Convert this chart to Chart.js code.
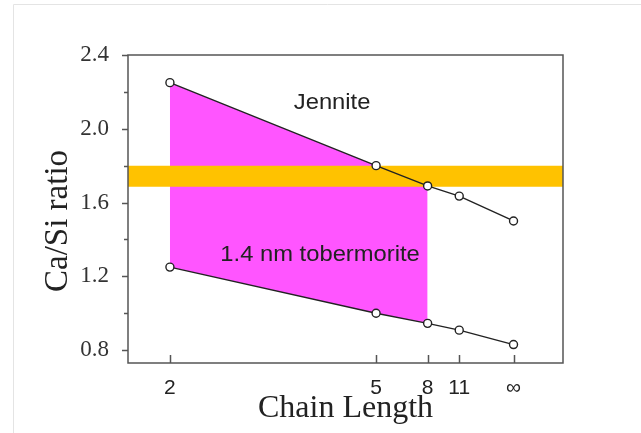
<!DOCTYPE html>
<html>
<head>
<meta charset="utf-8">
<script src="https://cdn.jsdelivr.net/npm/chart.js@4.4.1/dist/chart.umd.min.js"></script>
<style>
  html, body { margin: 0; padding: 0; background: #fff; }
  #wrap { width: 641px; height: 433px; position: relative; }
</style>
</head>
<body>
<div id="wrap"><canvas id="chart"></canvas></div>
<script>
// Chain length labels and their spot on the x axis (roughly 1/n)
const chainLabels = ['2', '5', '8', '11', '\u221E'];
const chainPos = [0.5, 0.2, 0.125, 0.079, 0];

// Ca/Si ratio for each chain length
const jennite = [2.25, 1.80, 1.69, 1.635, 1.50];
const tobermorite = [1.25, 1.00, 0.945, 0.908, 0.83];

// magenta region covers the first three chain lengths
const shadeCount = 3;

// orange band
const bandRange = [1.685, 1.80];

const yTicks = [0.8, 1.2, 1.6, 2.0, 2.4];
const yMinorTicks = [1.0, 1.4, 1.8, 2.2];

const annotations = [
    { text: 'Jennite', x: 0.264, y: 2.142 },
    { text: '1.4 nm tobermorite', x: 0.2815, y: 1.314 },
];

const Y_TITLE = 'Ca/Si ratio';

const X_MIN = -0.072, X_MAX = 0.561;
const Y_MIN = 0.73, Y_MAX = 2.4;

const LINE_COLOR = '#222';
const FRAME_COLOR = '#555';
const MAGENTA = 'rgb(255, 85, 255)';
const ORANGE = 'rgb(255, 194, 0)';
const SERIF = '"Liberation Serif", "Times New Roman", serif';
const SANS = '"Liberation Sans", Arial, sans-serif';

const toPoints = (ys) => ys.map((y, i) => ({ x: chainPos[i], y }));

const lineStyle = {
    borderColor: LINE_COLOR,
    borderWidth: 1.4,
    pointRadius: 4,
    pointBorderWidth: 1.4,
    pointBackgroundColor: '#fff',
    pointBorderColor: LINE_COLOR,
    fill: false,
    order: 0,
};

const hiddenEdge = { borderWidth: 0, pointRadius: 0, fill: false };

// frame, tick marks, y title and text labels
const extras = {
    id: 'extras',
    beforeDraw(chart) {
        const ctx = chart.ctx;
        ctx.save();
        ctx.strokeStyle = '#e4e4e4';
        ctx.lineWidth = 1;
        ctx.beginPath();
        ctx.moveTo(13.5, 433);
        ctx.lineTo(13.5, 4.5);
        ctx.lineTo(641, 4.5);
        ctx.stroke();
        ctx.restore();
    },
    afterDatasetsDraw(chart) {
        const ctx = chart.ctx;
        const xs = chart.scales.x, ys = chart.scales.y;
        ctx.save();
        ctx.fillStyle = '#222';
        ctx.font = '22px ' + SANS;
        ctx.textAlign = 'center';
        ctx.textBaseline = 'middle';
        annotations.forEach(a => {
            const px = xs.getPixelForValue(a.x);
            const py = ys.getPixelForValue(a.y);
            ctx.save();
            ctx.translate(px, py);
            ctx.scale(1.08, 1);
            ctx.fillText(a.text, 0, 0);
            ctx.restore();
        });
        ctx.restore();
    },
    afterDraw(chart) {
        const ctx = chart.ctx;
        const area = chart.chartArea;
        const xs = chart.scales.x, ys = chart.scales.y;
        ctx.save();
        ctx.strokeStyle = FRAME_COLOR;
        ctx.lineWidth = 1.5;
        ctx.strokeRect(area.left, area.top, area.right - area.left, area.bottom - area.top);
        ctx.beginPath();
        chainPos.forEach(v => {
            const px = Math.round(xs.getPixelForValue(v)) + 0.5;
            ctx.moveTo(px, area.bottom);
            ctx.lineTo(px, area.bottom - 8);
        });
        yTicks.forEach(v => {
            const py = Math.round(ys.getPixelForValue(v)) + 0.5;
            ctx.moveTo(area.left, py);
            ctx.lineTo(area.left - 6, py);
        });
        yMinorTicks.forEach(v => {
            const py = Math.round(ys.getPixelForValue(v)) + 0.5;
            ctx.moveTo(area.left, py);
            ctx.lineTo(area.left - 4, py);
        });
        ctx.stroke();

        // y axis title, sits a little below the middle of the plot
        ctx.fillStyle = '#222';
        ctx.font = '33px ' + SERIF;
        ctx.textAlign = 'center';
        ctx.textBaseline = 'middle';
        ctx.translate(58, ys.getPixelForValue(1.50));
        ctx.rotate(-Math.PI / 2);
        ctx.fillText(Y_TITLE, 0, 0);
        ctx.restore();
    }
};

new Chart(document.getElementById('chart'), {
    type: 'line',
    data: {
        datasets: [
            { label: 'Jennite', data: toPoints(jennite), ...lineStyle },
            { label: '1.4 nm tobermorite', data: toPoints(tobermorite), ...lineStyle },
            {
                label: 'band top',
                data: [{ x: X_MIN, y: bandRange[1] }, { x: X_MAX, y: bandRange[1] }],
                ...hiddenEdge,
                fill: '+1',
                backgroundColor: ORANGE,
                order: 1,
            },
            {
                label: 'band bottom',
                data: [{ x: X_MIN, y: bandRange[0] }, { x: X_MAX, y: bandRange[0] }],
                ...hiddenEdge,
                order: 1,
            },
            {
                label: 'shade top',
                data: toPoints(jennite).slice(0, shadeCount),
                ...hiddenEdge,
                fill: '+1',
                backgroundColor: MAGENTA,
                order: 2,
            },
            {
                label: 'shade bottom',
                data: toPoints(tobermorite).slice(0, shadeCount),
                ...hiddenEdge,
                order: 2,
            },
        ]
    },
    options: {
        responsive: true,
        maintainAspectRatio: false,
        animation: false,
        layout: {
            padding: { top: 55, right: 78, left: 0, bottom: 0 }
        },
        plugins: {
            legend: { display: false },
            tooltip: { enabled: false },
        },
        elements: { line: { tension: 0 } },
        scales: {
            x: {
                type: 'linear',
                reverse: true,
                min: X_MIN,
                max: X_MAX,
                grid: { display: false },
                border: { display: false },
                afterBuildTicks: (scale) => {
                    scale.ticks = chainPos.map(v => ({ value: v }));
                },
                afterFit: (scale) => { scale.height = 70; },
                ticks: {
                    autoSkip: false,
                    maxRotation: 0,
                    padding: 5,
                    color: '#222',
                    font: { family: SANS, size: 21 },
                    callback: (value) => {
                        const i = chainPos.indexOf(value);
                        return i >= 0 ? chainLabels[i] : '';
                    }
                },
                title: {
                    display: true,
                    text: 'Chain Length',
                    color: '#222',
                    font: { family: SERIF, size: 32 },
                    padding: { top: 0, bottom: 5 }
                }
            },
            y: {
                min: Y_MIN,
                max: Y_MAX,
                grid: { display: false },
                border: { display: false },
                afterBuildTicks: (scale) => {
                    scale.ticks = yTicks.map(v => ({ value: v }));
                },
                afterFit: (scale) => { scale.width = 128; },
                ticks: {
                    padding: 11,
                    color: '#333',
                    font: { family: SERIF, size: 23 },
                    callback: (value) => value.toFixed(1)
                },
                title: { display: false }
            }
        }
    },
    plugins: [extras]
});
</script>
</body>
</html>
